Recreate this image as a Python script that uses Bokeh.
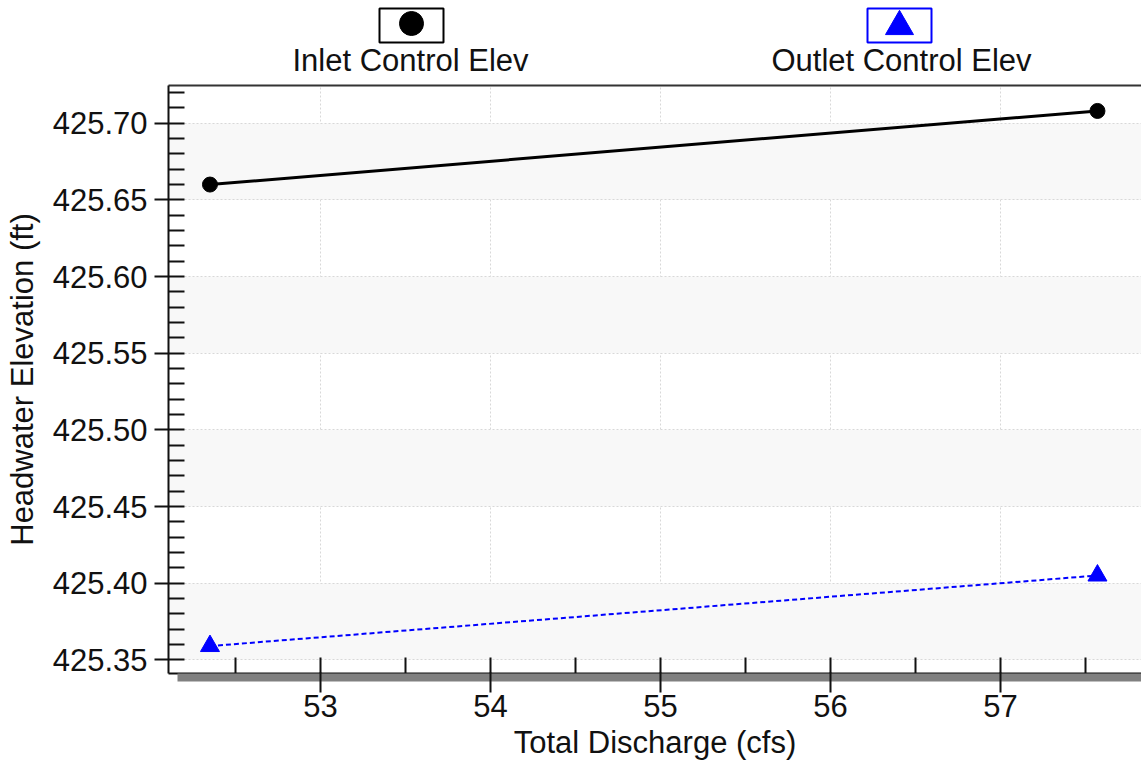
from bokeh.plotting import figure
from bokeh.layouts import column
from bokeh.models import (Range1d, LinearAxis, SingleIntervalTicker, FixedTicker,
                          NumeralTickFormatter)
from bokeh.core.properties import value
from bokeh.embed import file_html
from bokeh.resources import INLINE

# ---- data ----
discharge = [52.35, 57.57]
inlet_elev = [425.660, 425.708]
outlet_elev = [425.359, 425.405]
series_names = ["Inlet Control Elev", "Outlet Control Elev"]
x_label = "Total Discharge (cfs)"
y_label = "Headwater Elevation (ft)"

FONT = "Liberation Sans"
FS = "31px"
W = 1141
LEG_H = 83
MAIN_H = 769 - LEG_H
FRAME_LEFT = 168
X0, X1 = 52.106, 57.829
Y0, Y1 = 425.3411, 425.7246

# ---- legend strip (frame is aligned with the main chart frame) ----
leg = figure(width=W, height=LEG_H, x_range=Range1d(FRAME_LEFT, W), y_range=Range1d(LEG_H, 0),
             output_backend="svg", toolbar_location=None,
             min_border=0, min_border_left=FRAME_LEFT, min_border_right=0,
             min_border_top=0, min_border_bottom=0)
leg.axis.visible = False
leg.grid.visible = False
leg.outline_line_color = None
leg.background_fill_color = "white"
leg.border_fill_color = "white"

leg.rect(x=[411, 899], y=[25, 25], width=[64, 64], height=[34, 34],
         fill_color=None, line_color=["black", "blue"], line_width=2)
leg.scatter(x=[411], y=[23], size=24, marker="circle", color="black")
leg.scatter(x=[899], y=[26], size=28, marker="triangle", color="blue")
leg.text(x=[410, 901], y=[60, 60], text=series_names, text_align="center",
         text_baseline="middle", text_font=value(FONT), text_font_size=FS,
         text_color="#111111")

# ---- main chart ----
p = figure(width=W, height=MAIN_H,
           x_range=Range1d(X0, X1), y_range=Range1d(Y0, Y1),
           output_backend="svg", toolbar_location=None,
           min_border_left=FRAME_LEFT, min_border_right=0, min_border_top=2,
           min_border_bottom=96)
p.background_fill_color = "white"
p.border_fill_color = "white"
p.outline_line_color = None

# y axis
p.yaxis.ticker = SingleIntervalTicker(interval=0.05, num_minor_ticks=5)
p.yaxis.formatter = NumeralTickFormatter(format="0.00")
ya = p.yaxis[0]
ya.axis_line_width = 2
ya.axis_line_color = "#111111"
ya.major_tick_line_width = 2
ya.minor_tick_line_width = 2
ya.major_tick_line_color = "#111111"
ya.minor_tick_line_color = "#111111"
ya.major_tick_in = 0
ya.major_tick_out = 14
ya.minor_tick_out = 0
ya.minor_tick_in = 16
ya.major_label_standoff = 7
ya.major_label_text_font = FONT
ya.major_label_text_font_size = FS
ya.major_label_text_color = "#111111"
ya.axis_label = y_label
ya.axis_label_standoff = 10
ya.axis_label_text_font = FONT
ya.axis_label_text_font_size = FS
ya.axis_label_text_font_style = "normal"
ya.axis_label_text_color = "#111111"

# x axis A: black rule + inward minor ticks (labels not painted)
xa = p.xaxis[0]
xa.ticker = SingleIntervalTicker(interval=1, num_minor_ticks=2)
xa.axis_line_width = 2
xa.axis_line_color = "#111111"
xa.major_tick_line_color = None
xa.major_tick_in = 0
xa.major_tick_out = 4
xa.minor_tick_line_width = 2
xa.minor_tick_line_color = "#111111"
xa.minor_tick_in = 16
xa.minor_tick_out = 0
xa.major_label_text_font_size = "1px"
xa.major_label_text_color = None
xa.major_label_standoff = 0

# x axis B: grey shadow under the rule
xb = LinearAxis(ticker=FixedTicker(ticks=[]), bounds=(X0 + 9 / 170, X1),
                axis_line_width=8, axis_line_color="#808080",
                major_tick_in=0, major_tick_out=0, minor_tick_in=0, minor_tick_out=0,
                major_tick_line_color=None, minor_tick_line_color=None,
                major_label_standoff=0)
p.add_layout(xb, "below")

# x axis C: outward major ticks, labels, title
xc = LinearAxis(ticker=SingleIntervalTicker(interval=1, num_minor_ticks=0),
                axis_line_color=None,
                major_tick_in=5, major_tick_out=15, major_tick_line_width=2,
                major_tick_line_color="#111111",
                minor_tick_line_color=None, minor_tick_in=0, minor_tick_out=0,
                major_label_standoff=2, major_label_text_font=FONT,
                major_label_text_font_size=FS, major_label_text_color="#111111",
                axis_label=x_label, axis_label_standoff=5,
                axis_label_text_font=FONT, axis_label_text_font_size=FS,
                axis_label_text_font_style="normal", axis_label_text_color="#111111")
p.add_layout(xc, "below")

top_ax = LinearAxis(ticker=FixedTicker(ticks=[]),
                    axis_line_width=2, axis_line_color="#333333",
                    major_tick_out=0, major_tick_in=0, minor_tick_out=0, minor_tick_in=0,
                    major_label_standoff=0)
p.add_layout(top_ax, "above")

p.xgrid.ticker = SingleIntervalTicker(interval=1)
p.xgrid.grid_line_color = "#d8d8d8"
p.xgrid.grid_line_dash = "2 2"
p.xgrid.grid_line_width = 1
p.ygrid.grid_line_color = "#d8d8d8"
p.ygrid.grid_line_dash = "2 2"
p.ygrid.grid_line_width = 1
p.ygrid.band_fill_color = "#f8f8f8"
p.ygrid.band_fill_alpha = 1.0

p.line(discharge, inlet_elev, line_color="black", line_width=3)
p.scatter(discharge, inlet_elev, marker="circle", size=15, color="black")
p.line(discharge, outlet_elev, line_color="blue", line_width=2, line_dash="5 3")
p.scatter(discharge, outlet_elev, marker="triangle", size=19, color="blue")

layout = column(leg, p, spacing=0)
open("out.html", "w").write(file_html(layout, INLINE))
